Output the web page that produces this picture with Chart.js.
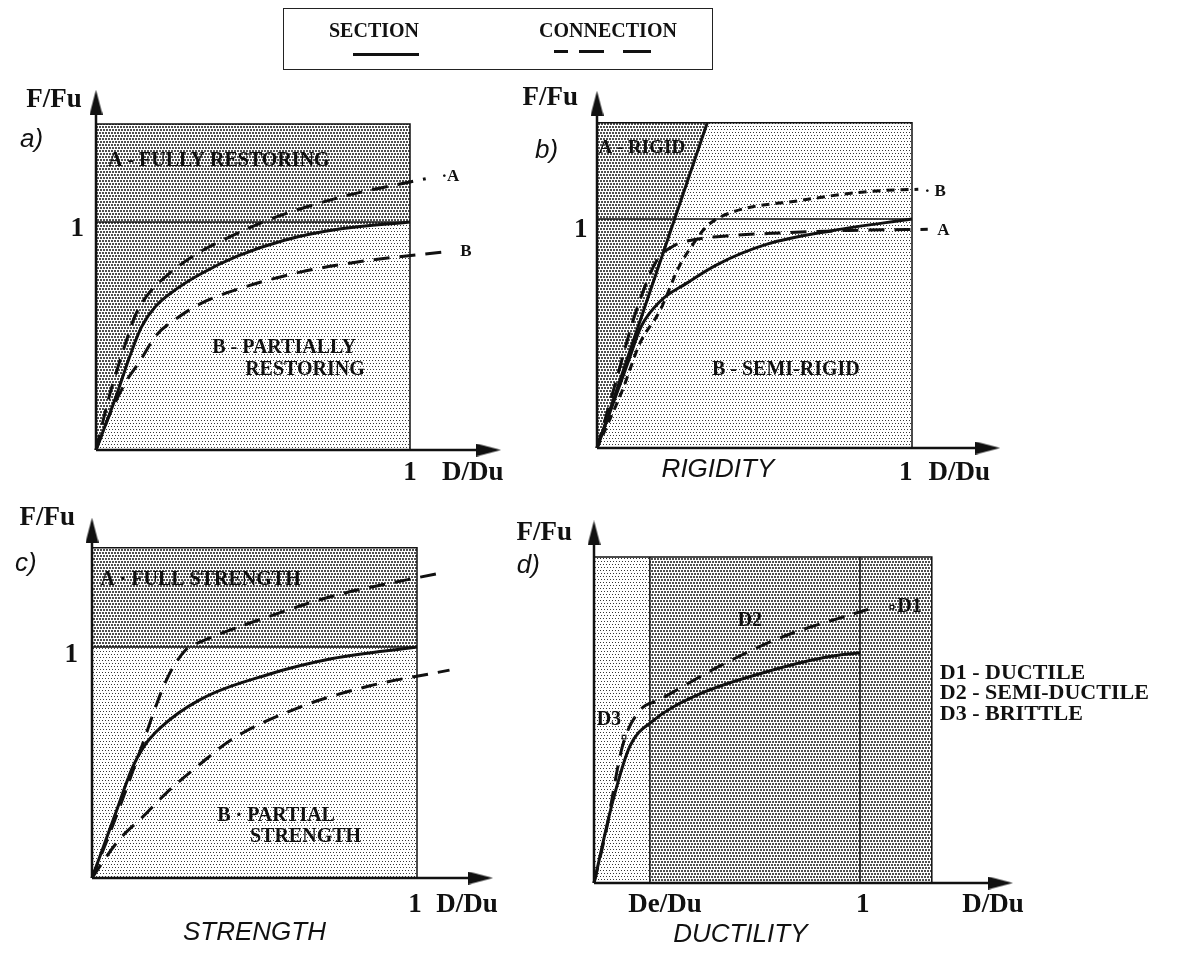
<!DOCTYPE html>
<html>
<head>
<meta charset="utf-8">
<title>Section / connection classification</title>
<script src="https://cdn.jsdelivr.net/npm/chart.js@4.4.1/dist/chart.umd.min.js"></script>
<style>
  html, body { margin: 0; padding: 0; background: #fff; }
  #page { position: relative; width: 1178px; height: 958px; overflow: hidden; background: #fff; }
  #page canvas { position: absolute; left: 0; top: 0; }
  #legendBox {
    position: absolute; left: 283px; top: 8px; width: 428px; height: 60px;
    border: 1.5px solid #222; color: #111;
    font-family: "Liberation Serif", serif; font-weight: bold; font-size: 20px;
  }
  #legendBox .lbl { position: absolute; top: 10px; width: 200px; text-align: center; }
  #legendBox .bar { position: absolute; height: 3px; background: #111; }
</style>
</head>
<body>
<div id="page">
  <canvas id="chartA" width="1178" height="958"></canvas>
  <canvas id="chartB" width="1178" height="958"></canvas>
  <canvas id="chartC" width="1178" height="958"></canvas>
  <canvas id="chartD" width="1178" height="958"></canvas>
  <div id="legendBox">
    <div class="lbl" style="left:-10px">SECTION</div>
    <div class="lbl" style="left:224px">CONNECTION</div>
    <div class="bar" style="left:69px;top:44px;width:66px"></div>
    <div class="bar" style="left:270px;top:41px;width:14px"></div>
    <div class="bar" style="left:295px;top:41px;width:25px"></div>
    <div class="bar" style="left:339px;top:41px;width:28px"></div>
  </div>
</div>
<script>
// ---------- data (D/Du on x, F/Fu on y) ----------

// a) fully / partially restoring
const aSecX  = [0, 0.06, 0.11, 0.145, 0.19, 0.25, 0.33, 0.45, 0.60, 0.78, 1.0];
const aSecY  = [0, 0.22, 0.42, 0.54, 0.63, 0.70, 0.77, 0.85, 0.92, 0.97, 1.0];
const aConAX = [0, 0.045, 0.09, 0.125, 0.17, 0.23, 0.32, 0.45, 0.57, 0.68, 0.81, 0.91, 1.05];
const aConAY = [0, 0.25, 0.45, 0.59, 0.69, 0.77, 0.86, 0.95, 1.02, 1.07, 1.12, 1.15, 1.19];
const aConBX = [0, 0.045, 0.10, 0.14, 0.19, 0.26, 0.33, 0.44, 0.65, 0.86, 1.12];
const aConBY = [0, 0.16, 0.31, 0.39, 0.50, 0.58, 0.64, 0.70, 0.78, 0.83, 0.87];

// b) rigid / semi-rigid
const bRigidX = [0, 0.35];
const bRigidY = [0, 1.42];
const bSecX  = [0, 0.05, 0.10, 0.14, 0.20, 0.285, 0.38, 0.54, 0.75, 1.0];
const bSecY  = [0, 0.19, 0.38, 0.53, 0.64, 0.72, 0.80, 0.89, 0.95, 1.0];
const bConAX = [0, 0.06, 0.12, 0.19, 0.24, 0.29, 0.40, 0.60, 0.80, 1.05];
const bConAY = [0, 0.29, 0.58, 0.82, 0.88, 0.905, 0.925, 0.94, 0.95, 0.955];
const bConBX = [0, 0.08, 0.137, 0.20, 0.26, 0.30, 0.35, 0.43, 0.64, 0.86, 1.02];
const bConBY = [0, 0.25, 0.46, 0.60, 0.79, 0.88, 0.97, 1.03, 1.08, 1.12, 1.13];

// c) full / partial strength
const cSecX  = [0, 0.07, 0.125, 0.16, 0.21, 0.33, 0.54, 0.74, 1.0];
const cSecY  = [0, 0.27, 0.48, 0.57, 0.65, 0.77, 0.88, 0.95, 1.0];
const cConAX = [0, 0.07, 0.138, 0.23, 0.29, 0.33, 0.54, 0.74, 1.07];
const cConAY = [0, 0.25, 0.51, 0.86, 0.99, 1.02, 1.13, 1.22, 1.32];
const cConBX = [0, 0.08, 0.16, 0.23, 0.33, 0.43, 0.64, 0.85, 1.10];
const cConBY = [0, 0.16, 0.27, 0.37, 0.49, 0.60, 0.74, 0.83, 0.90];

// d) ductility
const dDe    = 0.21;
const dSecX  = [0, 0.071, 0.135, 0.22, 0.38, 0.63, 0.87, 1.0];
const dSecY  = [0, 0.36, 0.60, 0.71, 0.82, 0.92, 0.99, 1.01];
const dConX  = [0, 0.044, 0.107, 0.175, 0.24, 0.47, 0.71, 1.03];
const dConY  = [0, 0.22, 0.60, 0.76, 0.80, 0.95, 1.08, 1.20];
const dMarkX = [0.113, 1.12];
const dMarkY = [0.64, 1.21];

// shaded boxes
const boxTop    = 1.43;
const bBoxTop   = 1.42;
const dBoxRight = 1.27;

// ---------- helpers ----------
const INK = '#111';

function pts(xs, ys) {
    return xs.map((x, i) => ({ x: x, y: ys[i] }));
}

function makePattern(size, dots, w, col) {
    const c = document.createElement('canvas');
    c.width = size; c.height = size;
    const g = c.getContext('2d');
    g.fillStyle = '#fff';
    g.fillRect(0, 0, size, size);
    g.fillStyle = col;
    dots.forEach(d => g.fillRect(d[0], d[1], w, w));
    return g.createPattern(c, 'repeat');
}
const darkFill  = makePattern(6, [[0, 0], [3, 0], [1, 3], [4, 3]], 2, '#505050');
const lightFill = makePattern(6, [[0, 0], [3, 0], [1, 3], [4, 3]], 1, '#383838');

// slender arrow head, tip up
function makeArrow(w, h) {
    const c = document.createElement('canvas');
    c.width = w; c.height = h;
    const g = c.getContext('2d');
    g.fillStyle = INK;
    g.beginPath();
    g.moveTo(w / 2, 0);
    g.lineTo(w, h);
    g.lineTo(0, h);
    g.closePath();
    g.fill();
    return c;
}
const arrowHead = makeArrow(13, 25);

function curve(xs, ys, dash, order) {
    return {
        data: pts(xs, ys), showLine: true, borderColor: INK, borderWidth: 3,
        borderDash: dash || [], pointRadius: 0, fill: false, clip: false,
        cubicInterpolationMode: 'monotone', order: order || 1
    };
}
function thin(xs, ys) {
    return {
        data: pts(xs, ys), showLine: true, borderColor: INK, borderWidth: 1.5,
        pointRadius: 0, fill: false, clip: false, order: 5
    };
}
function area(xs, ys, fill, pattern, order) {
    return {
        data: pts(xs, ys), showLine: true, borderColor: 'rgba(0,0,0,0)', borderWidth: 0,
        pointRadius: 0, fill: fill, backgroundColor: pattern, clip: false, order: order
    };
}
// axes with arrow heads
function axes(g) {
    const yHead = g.yTip - (arrowHead.height / 2) / g.uy;
    const xHead = g.xTip - (arrowHead.height / 2) / g.ux;
    return [
        { data: [{ x: 0, y: 0 }, { x: 0, y: yHead }], showLine: true, borderColor: INK, borderWidth: 2.5, pointRadius: 0, clip: false, order: 0 },
        { data: [{ x: 0, y: 0 }, { x: xHead, y: 0 }], showLine: true, borderColor: INK, borderWidth: 2.5, pointRadius: 0, clip: false, order: 0 },
        { data: [{ x: 0, y: yHead }], pointStyle: arrowHead, pointRadius: 6, pointRotation: 0, showLine: false, clip: false, order: 0 },
        { data: [{ x: xHead, y: 0 }], pointStyle: arrowHead, pointRadius: 6, pointRotation: 90, showLine: false, clip: false, order: 0 }
    ];
}

const panelText = {
    id: 'panelText',
    afterDraw(chart, args, opts) {
        const ctx = chart.ctx;
        const sx = chart.scales.x, sy = chart.scales.y;
        ctx.save();
        ctx.fillStyle = INK;
        ctx.textBaseline = 'middle';
        (opts.items || []).forEach(t => {
            ctx.font = t.font;
            ctx.textAlign = t.align || 'left';
            ctx.fillText(t.text, sx.getPixelForValue(t.x), sy.getPixelForValue(t.y));
        });
        ctx.restore();
    }
};

const W = 1178, H = 958;
function makePanel(id, g, datasets, items) {
    const xMax = g.xTip + 0.06, yMax = g.yTip + 0.06;
    return new Chart(document.getElementById(id), {
        type: 'scatter',
        data: { datasets: datasets.concat(axes(g)) },
        options: {
            responsive: false, animation: false, events: [],
            layout: { padding: {
                left: g.x0,
                right: W - (g.x0 + xMax * g.ux),
                top: g.y0 - yMax * g.uy,
                bottom: H - g.y0
            } },
            scales: {
                x: { type: 'linear', display: false, min: 0, max: xMax },
                y: { type: 'linear', display: false, min: 0, max: yMax }
            },
            plugins: { legend: { display: false }, tooltip: { enabled: false }, panelText: { items: items } }
        },
        plugins: [panelText]
    });
}

const fBig   = 'bold 27px "Liberation Serif", serif';
const fZone  = 'bold 20px "Liberation Serif", serif';
const fSmall = 'bold 17px "Liberation Serif", serif';
const fItal  = 'italic 26px "Liberation Sans", sans-serif';
const fList  = 'bold 22px "Liberation Serif", serif';

// ---------- a) ----------
makePanel('chartA', { x0: 96, ux: 314, y0: 450, uy: 228, xTip: 1.29, yTip: 1.58 }, [
    curve(aSecX, aSecY, [], 1),
    curve(aConAX, aConAY, [16, 10], 1),
    curve(aConBX, aConBY, [16, 10], 1),
    thin([0, 1], [1, 1]),
    thin([0, 1, 1], [boxTop, boxTop, 0]),
    area(aSecX, aSecY, { value: boxTop }, darkFill, 9),
    area([0, 1], [boxTop, boxTop], 'origin', lightFill, 10)
], [
    { text: 'F/Fu', x: -0.045, y: 1.535, font: fBig, align: 'right' },
    { text: 'a)', x: -0.242, y: 1.36, font: fItal },
    { text: '1', x: -0.038, y: 0.97, font: fBig, align: 'right' },
    { text: '1', x: 1.0, y: -0.10, font: fBig, align: 'center' },
    { text: 'D/Du', x: 1.2, y: -0.10, font: fBig, align: 'center' },
    { text: 'A - FULLY RESTORING', x: 0.038, y: 1.27, font: fZone },
    { text: 'B - PARTIALLY', x: 0.37, y: 0.45, font: fZone },
    { text: 'RESTORING', x: 0.475, y: 0.35, font: fZone },
    { text: '·A', x: 1.1, y: 1.2, font: fSmall },
    { text: 'B', x: 1.16, y: 0.87, font: fSmall }
]);

// ---------- b) ----------
makePanel('chartB', { x0: 597, ux: 315, y0: 448, uy: 229, xTip: 1.28, yTip: 1.56 }, [
    curve(bRigidX, bRigidY, [], 1),
    curve(bSecX, bSecY, [], 1),
    curve(bConAX, bConAY, [16, 10], 1),
    curve(bConBX, bConBY, [8, 6], 1),
    thin([0, 1], [1, 1]),
    thin([0, 1, 1], [bBoxTop, bBoxTop, 0]),
    area(bRigidX, bRigidY, { value: bBoxTop }, darkFill, 9),
    area([0, 1], [bBoxTop, bBoxTop], 'origin', lightFill, 10)
], [
    { text: 'F/Fu', x: -0.06, y: 1.53, font: fBig, align: 'right' },
    { text: 'b)', x: -0.197, y: 1.30, font: fItal },
    { text: '1', x: -0.03, y: 0.95, font: fBig, align: 'right' },
    { text: '1', x: 0.98, y: -0.11, font: fBig, align: 'center' },
    { text: 'D/Du', x: 1.15, y: -0.11, font: fBig, align: 'center' },
    { text: 'A - RIGID', x: 0.005, y: 1.31, font: 'bold 19px "Liberation Serif", serif' },
    { text: 'B - SEMI-RIGID', x: 0.365, y: 0.34, font: fZone },
    { text: '· B', x: 1.04, y: 1.12, font: fSmall },
    { text: 'A', x: 1.08, y: 0.95, font: fSmall },
    { text: 'RIGIDITY', x: 0.384, y: -0.096, font: fItal, align: 'center' }
]);

// ---------- c) ----------
makePanel('chartC', { x0: 92, ux: 325, y0: 878, uy: 231, xTip: 1.234, yTip: 1.56 }, [
    curve(cSecX, cSecY, [], 1),
    curve(cConAX, cConAY, [16, 10], 1),
    curve(cConBX, cConBY, [16, 10], 1),
    thin([0, 1], [1, 1]),
    thin([0, 1, 1], [boxTop, boxTop, 0]),
    area([0, 1], [1, 1], { value: boxTop }, darkFill, 9),
    area([0, 1], [boxTop, boxTop], 'origin', lightFill, 10)
], [
    { text: 'F/Fu', x: -0.052, y: 1.56, font: fBig, align: 'right' },
    { text: 'c)', x: -0.237, y: 1.36, font: fItal },
    { text: '1', x: -0.043, y: 0.965, font: fBig, align: 'right' },
    { text: '1', x: 0.994, y: -0.117, font: fBig, align: 'center' },
    { text: 'D/Du', x: 1.154, y: -0.117, font: fBig, align: 'center' },
    { text: 'A · FULL STRENGTH', x: 0.025, y: 1.29, font: fZone },
    { text: 'B · PARTIAL', x: 0.385, y: 0.27, font: fZone },
    { text: 'STRENGTH', x: 0.486, y: 0.18, font: fZone },
    { text: 'STRENGTH', x: 0.50, y: -0.238, font: fItal, align: 'center' }
]);

// ---------- d) ----------
makePanel('chartD', { x0: 594, ux: 266, y0: 883, uy: 228, xTip: 1.575, yTip: 1.59 }, [
    curve(dSecX, dSecY, [], 1),
    curve(dConX, dConY, [16, 10], 1),
    { data: pts(dMarkX, dMarkY), showLine: false, pointStyle: 'rect', pointRadius: 2.5,
      pointBackgroundColor: '#fff', pointBorderColor: INK, pointBorderWidth: 1.2, clip: false, order: 0 },
    thin([dDe, dDe], [0, boxTop]),
    thin([1, 1], [0, boxTop]),
    thin([0, dBoxRight, dBoxRight], [boxTop, boxTop, 0]),
    area([dDe, dBoxRight], [boxTop, boxTop], 'origin', darkFill, 9),
    area([0, dBoxRight], [boxTop, boxTop], 'origin', lightFill, 10)
], [
    { text: 'F/Fu', x: -0.083, y: 1.535, font: fBig, align: 'right' },
    { text: 'd)', x: -0.29, y: 1.39, font: fItal },
    { text: 'De/Du', x: 0.267, y: -0.096, font: fBig, align: 'center' },
    { text: '1', x: 1.01, y: -0.096, font: fBig, align: 'center' },
    { text: 'D/Du', x: 1.5, y: -0.096, font: fBig, align: 'center' },
    { text: 'DUCTILITY', x: 0.55, y: -0.228, font: fItal, align: 'center' },
    { text: 'D1', x: 1.14, y: 1.21, font: fZone },
    { text: 'D2', x: 0.586, y: 1.15, font: fZone, align: 'center' },
    { text: 'D3', x: 0.056, y: 0.715, font: fZone, align: 'center' },
    { text: 'D1 - DUCTILE', x: 1.30, y: 0.92, font: fList },
    { text: 'D2 - SEMI-DUCTILE', x: 1.30, y: 0.83, font: fList },
    { text: 'D3 - BRITTLE', x: 1.30, y: 0.74, font: fList }
]);
</script>
</body>
</html>
